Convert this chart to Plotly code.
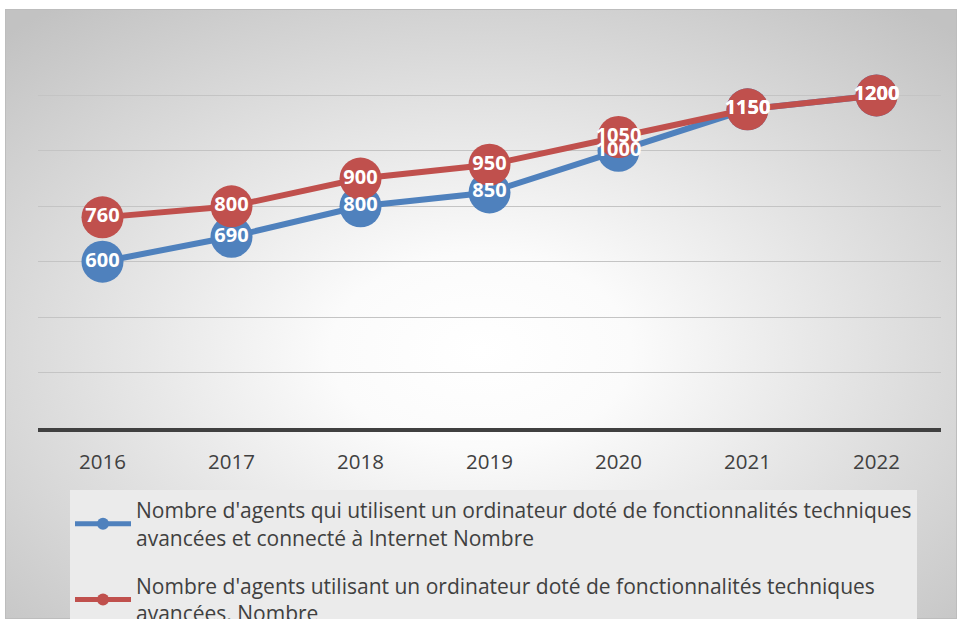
import base64
import plotly.graph_objects as go

# ---- data ----
years = ["2016", "2017", "2018", "2019", "2020", "2021", "2022"]
agents_internet = [600, 690, 800, 850, 1000, 1150, 1200]
agents_ordinateur = [760, 800, 900, 950, 1050, 1150, 1200]
name_internet = ("Nombre d'agents qui utilisent un ordinateur doté de fonctionnalités techniques"
                 "<br>avancées et connecté à Internet Nombre")
name_ordinateur = ("Nombre d'agents utilisant un ordinateur doté de fonctionnalités techniques"
                   "<br>avancées, Nombre")

BLUE = "#4F81BD"
RED = "#C0504D"
TEXT = "#404040"
FONT = "Open Sans"

W, H = 957, 619
ML, MR, MT, MB = 38, 16, 40, 191
PW, PH = W - ML - MR, H - MT - MB


def px_to_paper(x, y):
    return (x - ML) / PW, (H - MB - y) / PH


fig = go.Figure()

for vals, name, color in [(agents_internet, name_internet, BLUE),
                          (agents_ordinateur, name_ordinateur, RED)]:
    fig.add_trace(go.Scatter(
        x=years, y=vals, name=name, mode="lines+markers",
        line=dict(color=color, width=6),
        marker=dict(color=color, size=42),
        legendgroup=name,
    ))

# value labels on top of every marker
for vals in (agents_internet, agents_ordinateur):
    fig.add_trace(go.Scatter(
        x=years, y=vals, mode="text", text=[str(v) for v in vals],
        textposition="middle center",
        textfont=dict(family=FONT, size=20, color="white", weight="bold"),
        showlegend=False, hoverinfo="skip",
    ))

# radial grey background
svg = f"""<svg xmlns="http://www.w3.org/2000/svg" width="952" height="610" viewBox="0 0 952 610" preserveAspectRatio="none">
<defs><radialGradient id="g" cx="50%" cy="56%" r="72%">
<stop offset="0" stop-color="#ffffff"/>
<stop offset="0.22" stop-color="#fbfbfb"/>
<stop offset="1" stop-color="#c2c2c2"/>
</radialGradient></defs>
<rect x="0" y="0" width="952" height="610" fill="url(#g)"/>
<rect x="0.5" y="0.5" width="951" height="609" fill="none" stroke="#bdbdbd"/>
</svg>"""
src = "data:image/svg+xml;base64," + base64.b64encode(svg.encode()).decode()
ix, iy = px_to_paper(5, 9)
fig.add_layout_image(dict(
    source=src, xref="paper", yref="paper", x=ix, y=iy,
    sizex=952 / PW, sizey=610 / PH, xanchor="left", yanchor="top",
    sizing="stretch", layer="below",
))

lx, ly = px_to_paper(70, 490)
fig.update_layout(
    width=W, height=H,
    margin=dict(l=ML, r=MR, t=MT, b=MB, autoexpand=False),
    paper_bgcolor="white", plot_bgcolor="rgba(0,0,0,0)",
    font=dict(family=FONT, color=TEXT),
    showlegend=True,
    legend=dict(
        x=lx, y=ly, xanchor="left", yanchor="top",
        bgcolor="#ebebeb", font=dict(family=FONT, size=21, color=TEXT),
        itemsizing="constant", itemwidth=56,
        tracegroupgap=18, traceorder="grouped",
    ),
    xaxis=dict(
        type="category", range=[-0.5, 6.5], showgrid=False,
        showline=True, linecolor=TEXT, linewidth=4,
        ticks="", ticklabelstandoff=12,
        tickfont=dict(family=FONT, size=20.5, color=TEXT),
    ),
    yaxis=dict(
        range=[0, 1400], dtick=200, showgrid=True, gridcolor="#c4c4c4",
        gridwidth=1, zeroline=False, showticklabels=False,
    ),
)

fig.write_html("out.html")
